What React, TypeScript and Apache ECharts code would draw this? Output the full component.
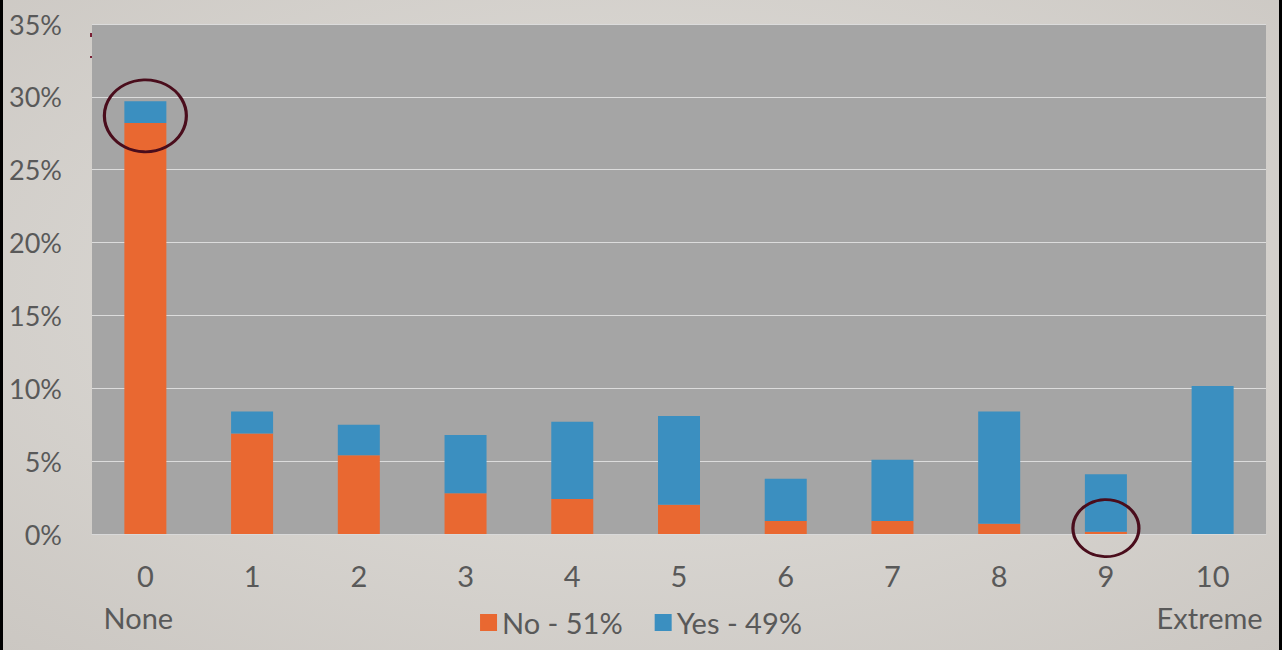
import React, { useEffect, useRef } from "react";
import * as echarts from "echarts";

// Ratings 0 (None) to 10 (Extreme), share of respondents split by answer
const categories = ["0", "1", "2", "3", "4", "5", "6", "7", "8", "9", "10"];
const noValues = [28.2, 6.9, 5.4, 2.8, 2.4, 2.0, 0.9, 0.9, 0.7, 0.15, 0];
const yesValues = [1.5, 1.5, 2.1, 4.0, 5.3, 6.1, 2.9, 4.2, 7.7, 3.95, 10.15];
const seriesNames = ["No - 51%", "Yes - 49%"];
const scaleEnds = ["None", "Extreme"];
const yTicks = { min: 0, max: 35, interval: 5 };
// Highlight rings: [category, value at ring centre]
const highlights: [string, number][] = [
  ["0", 28.7],
  ["9", 0.4],
];

const FONT = "Lato, 'Open Sans', sans-serif";
const TEXT = "#595959";

export default function App() {
  const ref = useRef<HTMLDivElement>(null);

  useEffect(() => {
    document.body.style.margin = "0";
    const chart = echarts.init(ref.current!, null, { renderer: "svg" });
    const labelStyle = { color: TEXT, fontSize: 29, fontFamily: FONT, lineHeight: 42 };
    chart.setOption({
      animation: false,
      backgroundColor: {
        type: "radial",
        x: 0.5,
        y: 0.45,
        r: 0.75,
        colorStops: [
          { offset: 0, color: "#e3e1dd" },
          { offset: 1, color: "#cbc7c2" },
        ],
      },
      textStyle: { fontFamily: FONT },
      grid: {
        left: 92,
        right: 16,
        top: 24,
        bottom: 116,
        show: true,
        backgroundColor: "#a5a5a5",
        borderWidth: 0,
      },
      legend: {
        data: seriesNames,
        left: "center",
        top: 603,
        icon: "rect",
        itemWidth: 17,
        itemHeight: 17,
        itemGap: 32,
        textStyle: { fontSize: 29, color: TEXT, fontFamily: FONT },
      },
      xAxis: {
        type: "category",
        data: categories,
        axisLine: { show: true, lineStyle: { color: "#d9d9d9", width: 1 } },
        axisTick: { show: false },
        axisLabel: {
          interval: 0,
          ...labelStyle,
          margin: 20,
          formatter: (v: string, i: number) =>
            i === 0
              ? `{v|${v}}\n{lo|${scaleEnds[0]}}`
              : i === categories.length - 1
              ? `{v|${v}}\n{hi|${scaleEnds[1]}}`
              : `{v|${v}}`,
          rich: {
            v: { ...labelStyle },
            lo: { ...labelStyle, padding: [0, 14, 0, 0] },
            hi: { ...labelStyle, padding: [0, 6, 0, 0] },
          },
        },
      },
      yAxis: {
        type: "value",
        min: yTicks.min,
        max: yTicks.max,
        interval: yTicks.interval,
        axisLine: { show: false },
        axisTick: { show: false },
        splitLine: { lineStyle: { color: "#dcdcdc", width: 1 } },
        axisLabel: {
          color: TEXT,
          fontSize: 27,
          fontFamily: FONT,
          margin: 30,
          formatter: "{value}%",
        },
      },
      series: [
        {
          name: seriesNames[0],
          type: "bar",
          stack: "total",
          barWidth: 42,
          data: noValues,
          itemStyle: { color: "#e96831" },
        },
        {
          name: seriesNames[1],
          type: "bar",
          stack: "total",
          barWidth: 42,
          data: yesValues,
          itemStyle: { color: "#3b8fc0" },
          markPoint: {
            symbol: "circle",
            label: { show: false },
            itemStyle: { color: "rgba(0,0,0,0)", borderColor: "#4a0d1c", borderWidth: 3 },
            data: [
              { coord: highlights[0], symbolSize: [82, 72] },
              { coord: highlights[1], symbolSize: [66, 57] },
            ],
          },
        },
      ],
      graphic: [
        { type: "rect", left: 0, top: 0, shape: { width: 3, height: 650 }, style: { fill: "#000" } },
        { type: "rect", left: 1279, top: 0, shape: { width: 3, height: 650 }, style: { fill: "#000" } },
        { type: "rect", left: 90, top: 33, shape: { width: 2, height: 4 }, style: { fill: "#7a1f35" } },
        { type: "rect", left: 90, top: 56, shape: { width: 2, height: 2 }, style: { fill: "#7a1f35" } },
      ],
    });
    return () => chart.dispose();
  }, []);

  return <div ref={ref} style={{ width: 1282, height: 650 }} />;
}
